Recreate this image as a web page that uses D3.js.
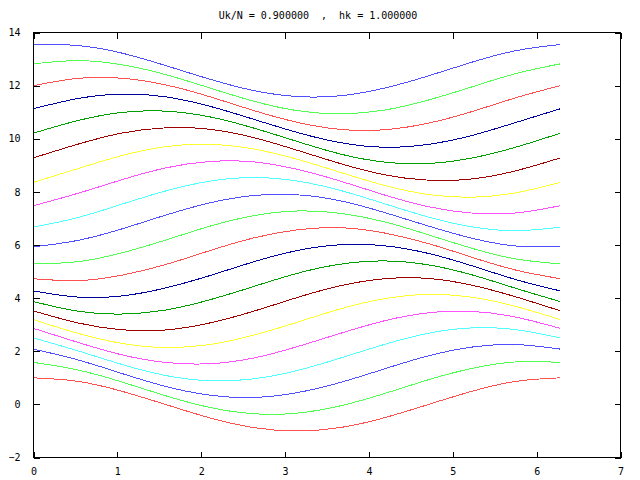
<!DOCTYPE html>
<html>
<head>
<meta charset="utf-8">
<script src="https://cdn.jsdelivr.net/npm/d3@7"></script>
<style>
  html, body { margin: 0; padding: 0; background: #fff; }
  svg { display: block; }
  text { font-family: "DejaVu Sans Mono", "Liberation Mono", monospace; font-size: 10px; fill: #000; white-space: pre; }
</style>
</head>
<body>
<svg id="chart" width="640" height="480"></svg>
<script>
// ---- data ----
const titleText = "Uk/N = 0.900000  ,  hk = 1.000000";
const xValues = [0, 0.5236, 1.0472, 1.5708, 2.0944, 2.6180, 3.1416, 3.6652, 4.1888, 4.7124, 5.2360, 5.7596, 6.2832];
const xTicks = [0, 1, 2, 3, 4, 5, 6, 7];
const yTicks = [-2, 0, 2, 4, 6, 8, 10, 12, 14];

const line01 = [1.00, 0.87, 0.50, 0.00, -0.50, -0.87, -1.00, -0.87, -0.50, 0.00, 0.50, 0.87, 1.00];
const line02 = [1.58, 1.30, 0.85, 0.33, -0.11, -0.35, -0.33, -0.05, 0.41, 0.93, 1.36, 1.60, 1.58];
const line03 = [2.08, 1.68, 1.17, 0.68, 0.35, 0.26, 0.44, 0.83, 1.34, 1.83, 2.16, 2.25, 2.08];
const line04 = [2.50, 2.02, 1.51, 1.09, 0.89, 0.96, 1.27, 1.75, 2.26, 2.68, 2.88, 2.81, 2.50];
const line05 = [2.86, 2.34, 1.87, 1.58, 1.53, 1.74, 2.17, 2.68, 3.15, 3.45, 3.50, 3.28, 2.86];
const line06 = [3.19, 2.68, 2.30, 2.14, 2.25, 2.60, 3.09, 3.60, 3.98, 4.14, 4.03, 3.68, 3.19];
const line07 = [3.52, 3.07, 2.81, 2.80, 3.06, 3.50, 4.02, 4.47, 4.73, 4.74, 4.48, 4.04, 3.52];
const line08 = [3.87, 3.51, 3.40, 3.55, 3.93, 4.43, 4.93, 5.28, 5.40, 5.25, 4.87, 4.36, 3.87];
const line09 = [4.27, 4.04, 4.08, 4.38, 4.84, 5.36, 5.79, 6.01, 5.97, 5.68, 5.21, 4.69, 4.27];
const line10 = [4.73, 4.66, 4.86, 5.26, 5.78, 6.26, 6.57, 6.65, 6.45, 6.05, 5.53, 5.05, 4.73];
const line11 = [5.29, 5.37, 5.70, 6.18, 6.70, 7.10, 7.28, 7.19, 6.87, 6.38, 5.87, 5.47, 5.29];
const line12 = [5.93, 6.17, 6.60, 7.12, 7.58, 7.86, 7.89, 7.66, 7.22, 6.71, 6.25, 5.96, 5.93];
const line13 = [6.67, 7.03, 7.53, 8.03, 8.40, 8.54, 8.41, 8.05, 7.55, 7.05, 6.68, 6.54, 6.67];
const line14 = [7.48, 7.94, 8.45, 8.90, 9.14, 9.13, 8.85, 8.40, 7.88, 7.44, 7.20, 7.21, 7.48];
const line15 = [8.36, 8.87, 9.36, 9.70, 9.79, 9.62, 9.23, 8.73, 8.24, 7.90, 7.80, 7.97, 8.36];
const line16 = [9.28, 9.79, 10.21, 10.41, 10.36, 10.05, 9.57, 9.06, 8.64, 8.44, 8.49, 8.80, 9.28];
const line17 = [10.21, 10.68, 10.99, 11.04, 10.83, 10.41, 9.90, 9.42, 9.12, 9.07, 9.28, 9.69, 10.21];
const line18 = [11.13, 11.51, 11.68, 11.58, 11.23, 10.74, 10.24, 9.85, 9.68, 9.79, 10.13, 10.62, 11.13];
const line19 = [12.00, 12.27, 12.28, 12.03, 11.59, 11.07, 10.62, 10.35, 10.34, 10.59, 11.03, 11.55, 12.00];
const line20 = [12.82, 12.94, 12.79, 12.42, 11.92, 11.42, 11.06, 10.94, 11.08, 11.46, 11.96, 12.46, 12.82];
const line21 = [13.55, 13.51, 13.23, 12.76, 12.25, 11.82, 11.59, 11.62, 11.91, 12.37, 12.89, 13.32, 13.55];

const lineColors = ["#ff5050", "#50ff50", "#5050ff", "#50ffff", "#ff50ff", "#ffff30", "#a00000", "#00a000", "#0000a0"];

// ---- layout ----
const W = 640, H = 480;
const plotLeft = 33.5, plotRight = 620.5, plotTop = 32.5, plotBottom = 457.5;
const tickLen = 6;

const series = [line01, line02, line03, line04, line05, line06, line07, line08, line09, line10,
                line11, line12, line13, line14, line15, line16, line17, line18, line19, line20, line21];

const svg = d3.select("#chart");
svg.append("rect").attr("width", W).attr("height", H).attr("fill", "#fff");

const x = d3.scaleLinear().domain([0, 7]).range([plotLeft, plotRight]);
const y = d3.scaleLinear().domain([-2, 14]).range([plotBottom, plotTop]);

// streamlines
const lineGen = d3.line()
  .x((d, i) => x(xValues[i]))
  .y(d => y(d))
  .curve(d3.curveNatural);

svg.append("g").selectAll("path")
  .data(series)
  .join("path")
  .attr("d", d => lineGen(d))
  .attr("fill", "none")
  .attr("stroke", (d, i) => lineColors[i % lineColors.length])
  .attr("stroke-width", 1)
  .attr("shape-rendering", "crispEdges");

// axes with inward ticks (mirrored)
function styleAxis(g) {
  g.select(".domain").remove();
  g.selectAll(".tick line").attr("stroke", "#000").attr("shape-rendering", "crispEdges");
  g.selectAll(".tick text").attr("font-family", null).attr("font-size", null).attr("fill", "#000");
}

svg.append("g")
  .attr("transform", `translate(0,${plotBottom})`)
  .call(d3.axisBottom(x).tickValues(xTicks).tickFormat(d3.format("d")).tickSizeInner(-tickLen).tickSizeOuter(0).tickPadding(10))
  .call(styleAxis);

svg.append("g")
  .attr("transform", `translate(0,${plotTop})`)
  .call(d3.axisTop(x).tickValues(xTicks).tickFormat("").tickSizeInner(-tickLen).tickSizeOuter(0))
  .call(styleAxis);

svg.append("g")
  .attr("transform", `translate(${plotLeft},0)`)
  .call(d3.axisLeft(y).tickValues(yTicks).tickFormat(d3.format("d")).tickSizeInner(-tickLen).tickSizeOuter(0).tickPadding(13))
  .call(styleAxis);

svg.append("g")
  .attr("transform", `translate(${plotRight},0)`)
  .call(d3.axisRight(y).tickValues(yTicks).tickFormat("").tickSizeInner(-tickLen).tickSizeOuter(0))
  .call(styleAxis);

// frame
svg.append("rect")
  .attr("x", plotLeft).attr("y", plotTop)
  .attr("width", plotRight - plotLeft).attr("height", plotBottom - plotTop)
  .attr("fill", "none").attr("stroke", "#000").attr("stroke-width", 1)
  .attr("shape-rendering", "crispEdges");

// title
svg.append("text")
  .attr("x", 318).attr("y", 19)
  .attr("text-anchor", "middle")
  .text(titleText);
</script>
</body>
</html>
